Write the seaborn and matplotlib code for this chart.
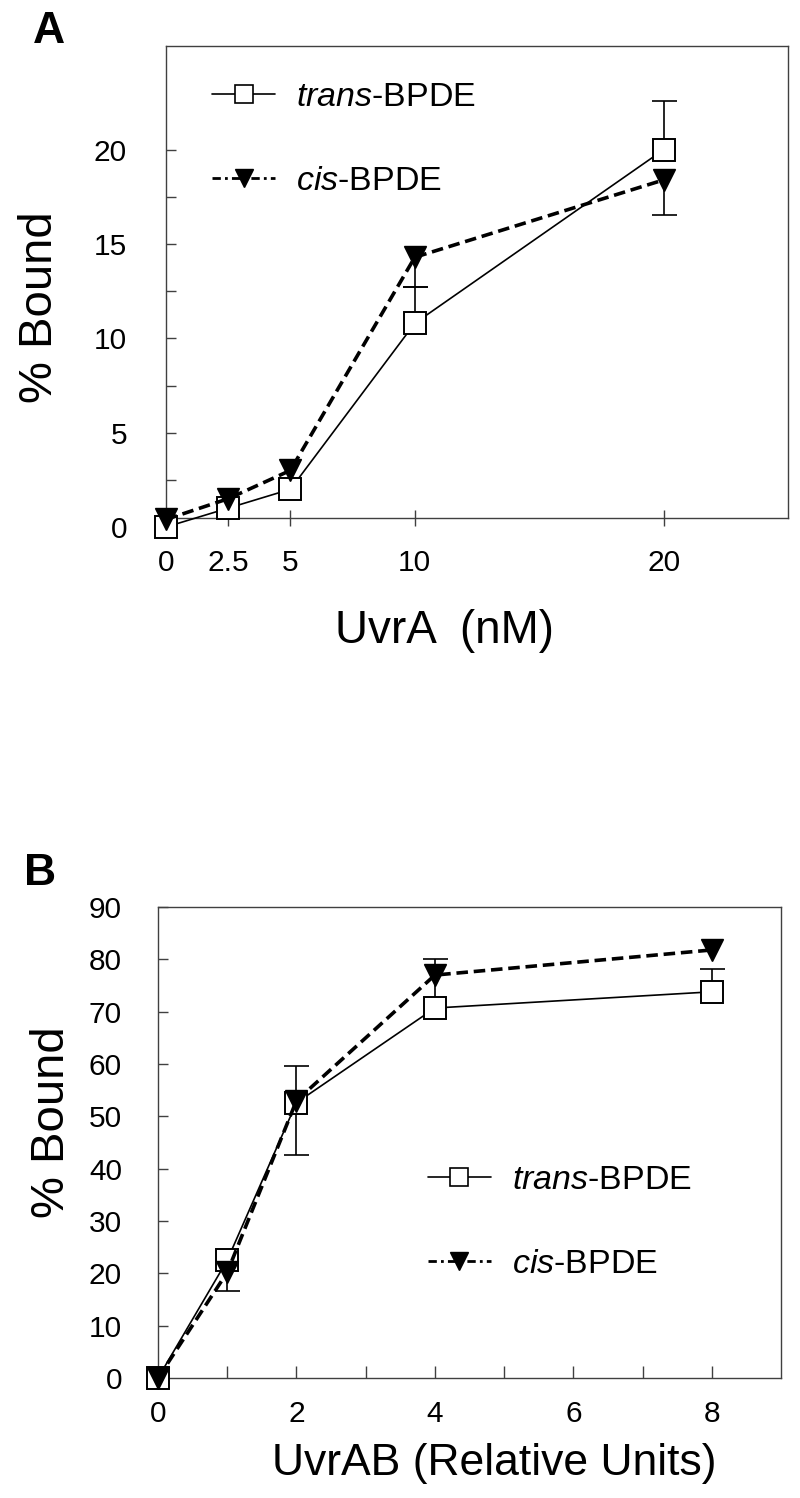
import numpy as np
import matplotlib
matplotlib.use('Agg')
import matplotlib.pyplot as plt
import seaborn as sns
from matplotlib.ticker import FixedLocator, MultipleLocator
from matplotlib.lines import Line2D

nan = np.nan

# Panel A: UvrA titration (nM) vs % bound
uvra_nm = [0, 2.5, 5, 10, 20]
uvra_labels = ['0', '2.5', '5', '10', '20']
a_trans = [0.0, 1.0, 2.0, 10.8, 20.0]
a_cis = [0.4, 1.5, 3.0, 14.3, 18.4]
a_trans_err_up = [nan, nan, nan, 1.9, 2.6]
a_cis_err_down = [nan, nan, nan, 1.6, 1.85]

# Panel B: UvrAB (relative units) vs % bound
uvrab_units = [0, 1, 2, 4, 8]
b_trans = [0.0, 22.5, 52.6, 70.7, 73.8]
b_cis = [0.0, 20.2, 53.0, 77.0, 81.8]
b_trans_err_up = [nan, nan, 7.1, 9.4, 4.4]
b_cis_err_down = [nan, 3.6, 10.4, nan, nan]

series_labels = [r'$\it{trans}$-BPDE', r'$\it{cis}$-BPDE']

sns.set_theme(style='ticks')
plt.rcParams['font.family'] = ['Liberation Sans', 'DejaVu Sans']
plt.rcParams['mathtext.fontset'] = 'custom'
plt.rcParams['mathtext.it'] = 'Liberation Sans:italic'
plt.rcParams['mathtext.rm'] = 'Liberation Sans'
plt.rcParams['text.color'] = 'black'
plt.rcParams['axes.labelcolor'] = 'black'
plt.rcParams['xtick.labelcolor'] = 'black'
plt.rcParams['ytick.labelcolor'] = 'black'

AX_COLOR = '#404040'
MS = 16.5


def draw_err(ax, x, y, err, side):
    # one-sided error bars: only the side that is visible in the figure
    x = np.asarray(x, dtype=float)
    y = np.asarray(y, dtype=float)
    err = np.asarray(err, dtype=float)
    m = ~np.isnan(err)
    zero = np.zeros(m.sum())
    yerr = [zero, err[m]] if side == 'up' else [err[m], zero]
    _, caps, _ = ax.errorbar(x[m], y[m], yerr=yerr, fmt='none',
                             ecolor='black', elinewidth=1.2, capsize=9,
                             capthick=1.2, zorder=2, clip_on=False)
    caps[0 if side == 'up' else 1].set_visible(False)


def draw_pair(ax, x, trans, cis, trans_up, cis_down):
    draw_err(ax, x, trans, trans_up, 'up')
    draw_err(ax, x, cis, cis_down, 'down')
    sns.lineplot(x=x, y=trans, ax=ax, color='black', linewidth=1.2,
                 marker='s', markersize=MS, markerfacecolor='white',
                 markeredgecolor='black', markeredgewidth=1.4,
                 clip_on=False, zorder=3)
    sns.lineplot(x=x, y=cis, ax=ax, color='black', linewidth=2.6,
                 marker='v', markersize=MS, markerfacecolor='black',
                 markeredgecolor='black', markeredgewidth=1.0,
                 clip_on=False, zorder=4)
    ax.lines[-1].set_dashes((3.2, 1.6))


def add_legend(ax, anchor):
    handles = [
        Line2D([], [], color='black', lw=1.2, marker='s', ms=12.5,
               mfc='white', mec='black', mew=1.2),
        Line2D([], [], color='black', lw=2.0, ls=(0, (3, 1.5, 1, 1.5)),
               marker='v', ms=12.5, mfc='black', mec='black'),
    ]
    ax.legend(handles, series_labels, loc='upper left', bbox_to_anchor=anchor,
              frameon=False, fontsize=24.5, borderpad=0, borderaxespad=0,
              handlelength=1.85, handletextpad=0.62, labelspacing=1.55)


def style_frame(ax):
    for sp in ax.spines.values():
        sp.set_visible(True)
        sp.set_color(AX_COLOR)
        sp.set_linewidth(1.0)


fig = plt.figure(figsize=(8, 14.98), dpi=100)

# ---------------- Panel A ----------------
axA = fig.add_axes([0.2075, 0.6482, 0.7775, 0.3211])
draw_pair(axA, uvra_nm, a_trans, a_cis, a_trans_err_up, a_cis_err_down)
axA.set_xlim(0, 25)
axA.set_ylim(0, 25.5)
style_frame(axA)
axA.spines['bottom'].set_position(('data', 0.5))
axA.spines['left'].set_bounds(0.5, 25.5)
axA.spines['right'].set_bounds(0.5, 25.5)
axA.set_xticks(uvra_nm)
axA.set_xticklabels(uvra_labels)
axA.set_yticks([0, 5, 10, 15, 20])
axA.yaxis.set_minor_locator(FixedLocator([2.5, 7.5, 12.5, 17.5]))
axA.tick_params(axis='y', which='both', direction='in', length=7, width=1,
                color=AX_COLOR, labelsize=21.5, pad=28)
axA.tick_params(axis='x', direction='inout', length=11, width=1,
                color=AX_COLOR, labelsize=21.5, pad=17)
axA.set_xlabel('UvrA  (nM)', fontsize=33)
axA.xaxis.set_label_coords(0.448, -0.17)
axA.set_ylabel('% Bound', fontsize=34)
axA.yaxis.set_label_coords(-0.168, 0.457)
add_legend(axA, (0.074, 0.925))
fig.text(0.061, 0.979, 'A', fontsize=32, fontweight='bold', ha='center', va='center')

# ---------------- Panel B ----------------
axB = fig.add_axes([0.1975, 0.0801, 0.7788, 0.3144])
draw_pair(axB, uvrab_units, b_trans, b_cis, b_trans_err_up, b_cis_err_down)
axB.set_xlim(0, 9)
axB.set_ylim(0, 90)
style_frame(axB)
axB.xaxis.set_major_locator(MultipleLocator(2))
axB.xaxis.set_minor_locator(FixedLocator([1, 3, 5, 7]))
axB.yaxis.set_major_locator(MultipleLocator(10))
axB.tick_params(axis='y', direction='in', length=7, width=1,
                color=AX_COLOR, labelsize=21.5, pad=26)
axB.tick_params(axis='x', which='both', direction='in', length=9, width=1,
                color=AX_COLOR, labelsize=21.5, pad=16)
axB.set_xlabel('UvrAB (Relative Units)', fontsize=32)
axB.xaxis.set_label_coords(0.540, -0.138)
axB.set_ylabel('% Bound', fontsize=34)
axB.yaxis.set_label_coords(-0.135, 0.543)
add_legend(axB, (0.433, 0.452))
fig.text(0.05, 0.4166, 'B', fontsize=32, fontweight='bold', ha='center', va='center')

fig.savefig('out.png', dpi=100)
